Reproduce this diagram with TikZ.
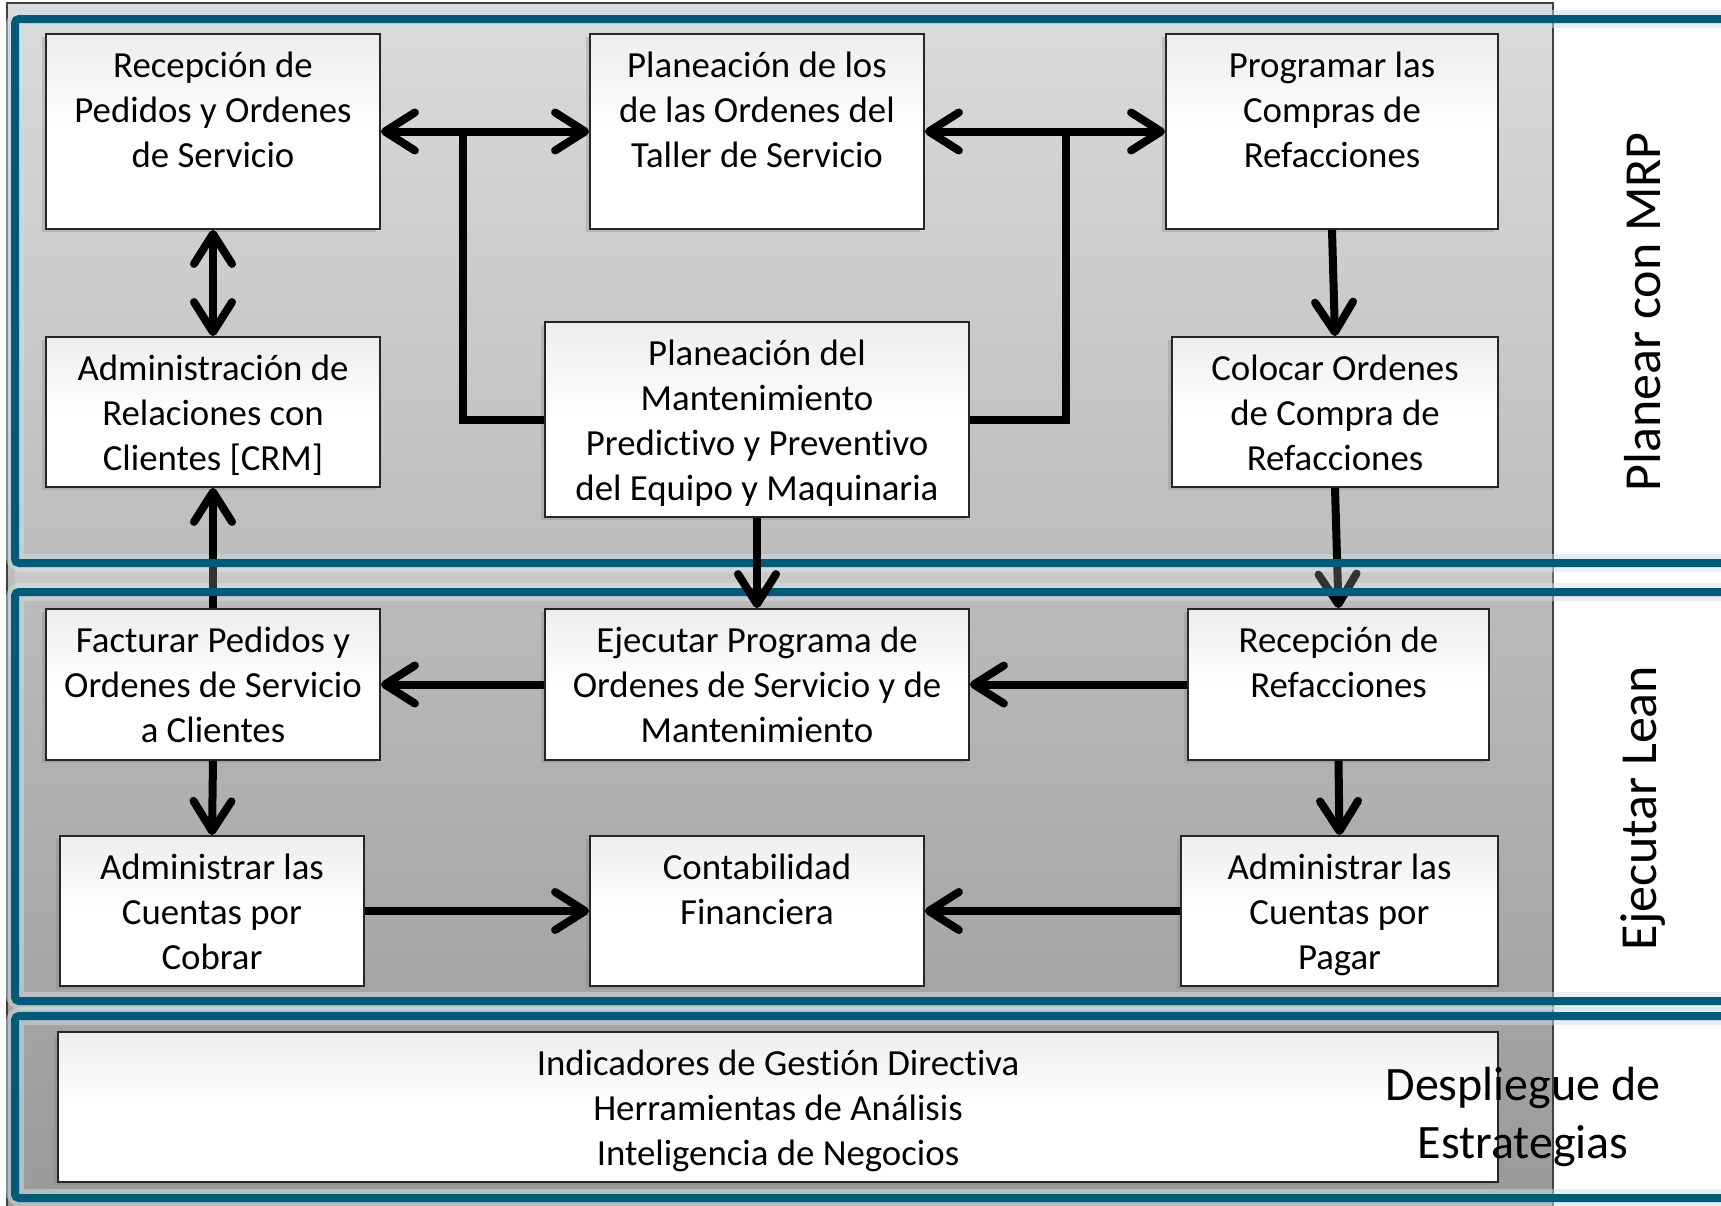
\documentclass[tikz,border=0pt]{standalone}
\usepackage{fontspec}
\setmainfont{Carlito}[Ligatures=NoCommon]
\usetikzlibrary{arrows.meta,shadows}
\definecolor{bandblue}{HTML}{005A78}

\begin{document}
\begin{tikzpicture}[x=0.5pt, y=-0.5pt,
  box/.style={draw=black!85, line width=0.9pt, top color=black!7, bottom color=white, middle color=white,
    align=center, inner sep=0pt, font=\fontsize{18.4}{22.5}\selectfont,
    drop shadow={shadow xshift=-2pt, shadow yshift=-1.5pt, opacity=.3}},
  three/.style={text height=62.85pt, text depth=4.6pt},
  four/.style={text height=85.35pt, text depth=4.6pt},
  link/.style={line width=4pt},
  band/.style={draw=bandblue, line width=4pt, rounded corners=2pt},
  glow/.style={draw=bandblue!20, line width=9pt, opacity=.5, rounded corners=3pt},
  side/.style={font=\fontsize{26}{31}\selectfont, rotate=90},
  >={Straight Barb[length=15pt, width=19pt, round]}]
\useasboundingbox (0,0) rectangle (1721,1206);
\fill[white] (0,0) rectangle (1721,1206);
\shade[top color=black!14, bottom color=black!40] (7,3) rectangle (1553,1210);
\draw[black!75, line width=.6pt] (7,3) rectangle (1553,1210);
\draw[glow] (15,19) rectangle (1760,563);
\draw[glow] (15,592) rectangle (1760,1001);
\draw[glow] (15,1016) rectangle (1760,1198);

\node[box, four, minimum width=167pt, minimum height=97.5pt] (rp) at (213,131.5) {Recepción de\\Pedidos y Ordenes\\de Servicio\\\mbox{}};
\node[box, four, minimum width=167pt, minimum height=97.5pt] (tal) at (757,131.5) {Planeación de los\\de las Ordenes del\\Taller de Servicio\\\mbox{}};
\node[box, four, minimum width=166pt, minimum height=97.5pt] (pc) at (1332,131.5) {Programar las\\Compras de\\Refacciones\\\mbox{}};
\node[box, three, minimum width=167pt, minimum height=75pt] (crm) at (213,412) {Administración de\\Relaciones con\\Clientes [CRM]};
\node[box, four, minimum width=212pt, minimum height=97.5pt] (pm) at (757,419.5) {Planeación del\\Mantenimiento\\Predictivo y Preventivo\\del Equipo y Maquinaria};
\node[box, three, minimum width=163pt, minimum height=75pt] (co) at (1335,412) {Colocar Ordenes\\de Compra de\\Refacciones};
\node[box, three, minimum width=167pt, minimum height=75.5pt] (fp) at (213,684.5) {Facturar Pedidos y\\Ordenes de Servicio\\a Clientes};
\node[box, three, minimum width=212pt, minimum height=75.5pt] (ep) at (757,684.5) {Ejecutar Programa de\\Ordenes de Servicio y de\\Mantenimiento};
\node[box, three, minimum width=150.5pt, minimum height=75.5pt] (rr) at (1338.5,684.5) {Recepción de\\Refacciones\\\mbox{}};
\node[box, three, minimum width=152pt, minimum height=75pt] (cc) at (212,911) {Administrar las\\Cuentas por\\Cobrar};
\node[box, three, minimum width=167pt, minimum height=75pt] (cf) at (757,911) {Contabilidad\\Financiera\\\mbox{}};
\node[box, three, minimum width=158.5pt, minimum height=75pt] (cp) at (1339.5,911) {Administrar las\\Cuentas por\\Pagar};
\node[box, three, minimum width=720pt, minimum height=75pt] (ind) at (778,1107) {Indicadores de Gestión Directiva\\Herramientas de Análisis\\Inteligencia de Negocios};

\draw[link, ->] (fp.north) -- (crm.south);
\draw[link, ->] (co.south) -- (rr.north);
\fill[white, opacity=.2] (15,567) rectangle (1760,588);

\draw[band] (15,19) rectangle (1760,563);
\draw[band] (15,592) rectangle (1760,1001);
\draw[band] (15,1016) rectangle (1760,1198);

\coordinate (jl) at (463,131.5);
\coordinate (jr) at (1066,131.5);
\draw[link, <->] (rp.east) -- (tal.west);
\draw[link, <->] (tal.east) -- (pc.west);
\draw[link] (pm.west) -| (jl);
\draw[link] (pm.east) -| (jr);
\draw[link, <->] (rp.south) -- (crm.north);
\draw[link, ->] (pc.south) -- (co.north);
\draw[link, ->] (pm.south) -- (ep.north);
\draw[link, ->] (ep.west) -- (fp.east);
\draw[link, ->] (rr.west) -- (ep.east);
\draw[link, ->] (fp.south) -- (cc.north);
\draw[link, ->] (rr.south) -- (cp.north);
\draw[link, ->] (cc.east) -- (cf.west);
\draw[link, ->] (cp.west) -- (cf.east);

\node[side] (mrp) at (1643,312) {Planear con MRP};
\node[side] (lean) at (1643,808) {Ejecutar Lean};
\node[font=\fontsize{24}{29}\selectfont, align=center] (desp) at (1523,1117) {Despliegue de\\Estrategias};
\end{tikzpicture}
\end{document}
